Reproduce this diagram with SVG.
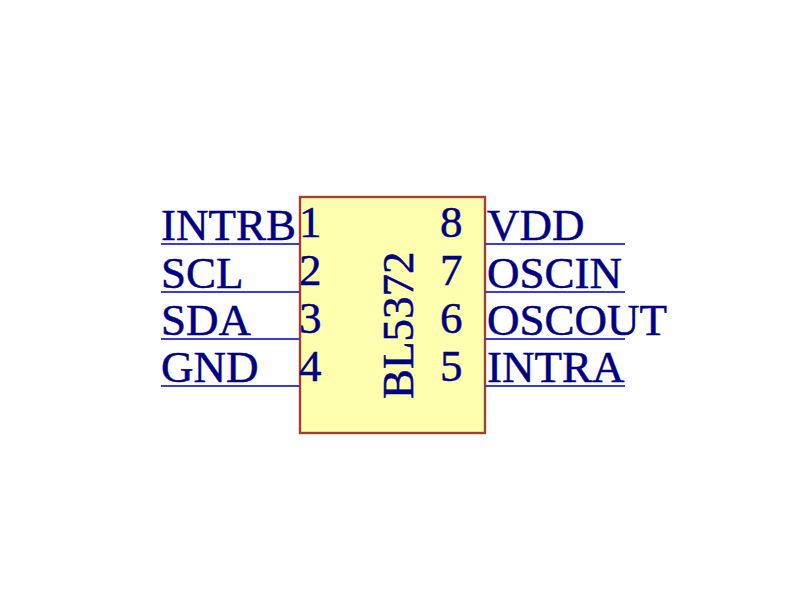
<svg xmlns="http://www.w3.org/2000/svg" width="800" height="600" viewBox="0 0 800 600">
<style>
text{font-family:"Liberation Serif","Times New Roman",serif;font-size:45px;fill:#000080;stroke:#000080;stroke-width:.5}
.w{stroke:#3c3cd0;stroke-width:2.2;fill:none}
</style>
<rect width="800" height="600" fill="#fff"/>
<g id="body"><rect x="300" y="197" width="185" height="236" fill="#ffffb0" stroke="#a04030" stroke-width="2.4"/>
<text transform="translate(413 399) rotate(-90)">BL5372</text></g>
<g id="connectors">
<path class="w" d="M161 244H300M161 292H300M161 339H300M161 386H300M485 244H625M485 292H625M485 339H625M485 386H625"/>
</g>
<g id="pin1"><text x="161" y="240">INTRB</text><text x="299" y="237">1</text></g>
<g id="pin2"><text x="161" y="288">SCL</text><text x="299" y="285">2</text></g>
<g id="pin3"><text x="161" y="335">SDA</text><text x="299" y="333">3</text></g>
<g id="pin4"><text x="161" y="382">GND</text><text x="299" y="381">4</text></g>
<g id="pin8"><text x="487" y="240">VDD</text><text x="440" y="237">8</text></g>
<g id="pin7"><text x="487" y="288">OSCIN</text><text x="440" y="285">7</text></g>
<g id="pin6"><text x="487" y="335">OSCOUT</text><text x="440" y="333">6</text></g>
<g id="pin5"><text x="487" y="382">INTRA</text><text x="440" y="381">5</text></g>
</svg>
